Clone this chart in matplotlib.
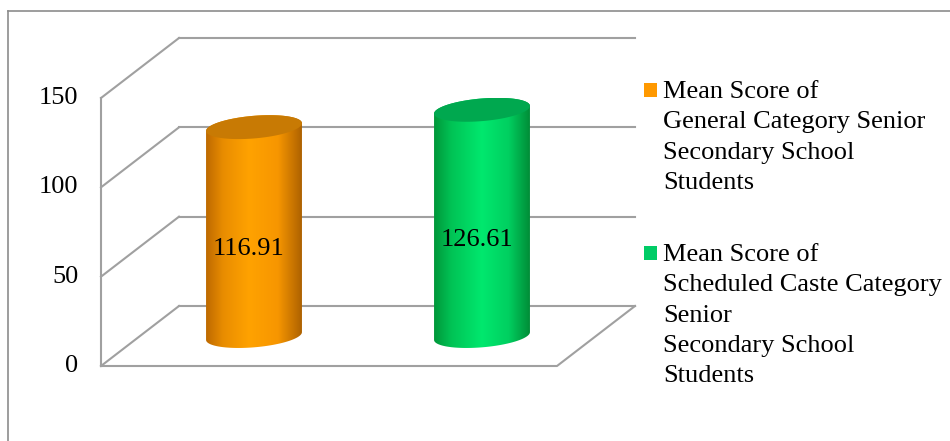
import numpy as np
import matplotlib
matplotlib.use("Agg")
import matplotlib.pyplot as plt
from matplotlib.patches import Polygon, Rectangle
from matplotlib.lines import Line2D

# Veriler
kategoriler = [
    "Mean Score of\nGeneral Category Senior\nSecondary School\nStudents",
    "Mean Score of\nScheduled Caste Category\nSenior\nSecondary School\nStudents",
]
degerler = [116.91, 126.61]
etiketler = ["116.91", "126.61"]
y_tikler = [0, 50, 100, 150]

# Renkler (kenar -> orta -> kenar)
govde_renkleri = [
    [(0.0, "#BE6A00"), (0.18, "#E98D00"), (0.45, "#FFA200"), (0.75, "#F79600"), (1.0, "#AE6200")],
    [(0.0, "#00973A"), (0.18, "#00C355"), (0.5, "#00E86E"), (0.78, "#00CF60"), (1.0, "#008D37")],
]
kapak_renkleri = ["#C87A04", "#00A84F"]
lejant_renkleri = ["#FF9900", "#00CC66"]

W, H = 950, 441
YAZI = 19
fig = plt.figure(figsize=(W / 100, H / 100), dpi=100)
fig.patch.set_facecolor("white")

# Dis cerceve (sol ve ust)
fig.add_artist(Line2D([8 / W, 8 / W], [0, 1 - 11 / H], color="#8C8C8C", lw=1.2))
fig.add_artist(Line2D([8 / W, 1], [1 - 11 / H, 1 - 11 / H], color="#8C8C8C", lw=1.2))

# On duzlem: x 101..557 px, y 366..98 px
ax = fig.add_axes([101 / W, 75 / H, 456 / W, 268 / H])
ax.set_xlim(0, 2)
ax.set_ylim(0, 150)
ax.axis("off")

# Derinlik kaymasi (veri biriminde)
dx = 78 / 228
dy = 60 / (268 / 150)

izgara = dict(color="#A0A0A0", lw=1.5, clip_on=False, zorder=1)
for v in y_tikler:
    # arka duvar cizgisi
    ax.plot([dx, 2 + dx], [v + dy, v + dy], **izgara)
    # sol duvar capraz cizgisi
    ax.plot([0, dx], [v, v + dy], **izgara)
    ax.text(-0.1, v, str(v), ha="right", va="center", fontsize=YAZI,
            family="Liberation Serif", color="black")
ax.plot([0, 0], [0, 150], **izgara)
# zemin
ax.plot([0, 2, 2 + dx], [0, 0, dy], **izgara)

# Silindir boyutlari
a, c, b = 0.199, 0.068, 6.7
t0 = np.arctan2(c, a)
xm = np.hypot(a, c)


def elips(cx, cy, t):
    return np.column_stack([cx + a * np.cos(t) + c * np.sin(t), cy + b * np.sin(t)])


def gradyan(duraklar, n=200):
    pos = [d[0] for d in duraklar]
    rgb = np.array([matplotlib.colors.to_rgb(d[1]) for d in duraklar])
    s = np.linspace(0, 1, n)
    return np.stack([np.interp(s, pos, rgb[:, k]) for k in range(3)], axis=-1)[None, :, :]


for i, v in enumerate(degerler):
    cx = i + 0.5 + dx / 2
    y0 = dy / 2
    y1 = v + dy / 2
    alt = elips(cx, y0, np.linspace(t0 + np.pi, t0 + 2 * np.pi, 80))
    ust = elips(cx, y1, np.linspace(t0, t0 + np.pi, 80))
    govde = Polygon(np.vstack([alt, ust]), closed=True, facecolor="none",
                    edgecolor="none", zorder=3)
    ax.add_patch(govde)
    img = ax.imshow(gradyan(govde_renkleri[i]), extent=[cx - xm, cx + xm, y0 - b, y1 + b],
                    aspect="auto", zorder=3, interpolation="bilinear")
    img.set_clip_path(govde)
    kapak = Polygon(elips(cx, y1, np.linspace(0, 2 * np.pi, 120)), closed=True,
                    facecolor=kapak_renkleri[i], edgecolor="none", zorder=4)
    ax.add_patch(kapak)
    ax.annotate(etiketler[i], (cx, v / 2 + dy / 2), xytext=(-5, -17),
                textcoords="offset pixels", ha="center", va="center",
                fontsize=YAZI, family="Liberation Serif", zorder=5)

ax.set_xlim(0, 2)
ax.set_ylim(0, 150)

# Lejant
lejant_y = [83, 246]
for i, metin in enumerate(kategoriler):
    y = lejant_y[i]
    fig.add_artist(Rectangle((644 / W, 1 - (y + 14) / H), 13 / W, 14 / H,
                             facecolor=lejant_renkleri[i], edgecolor="none"))
    fig.text(663 / W, 1 - (y - 2) / H, metin, ha="left", va="top", fontsize=YAZI,
             family="Liberation Serif", linespacing=1.49)

fig.savefig("out.png", dpi=100, facecolor="white")
